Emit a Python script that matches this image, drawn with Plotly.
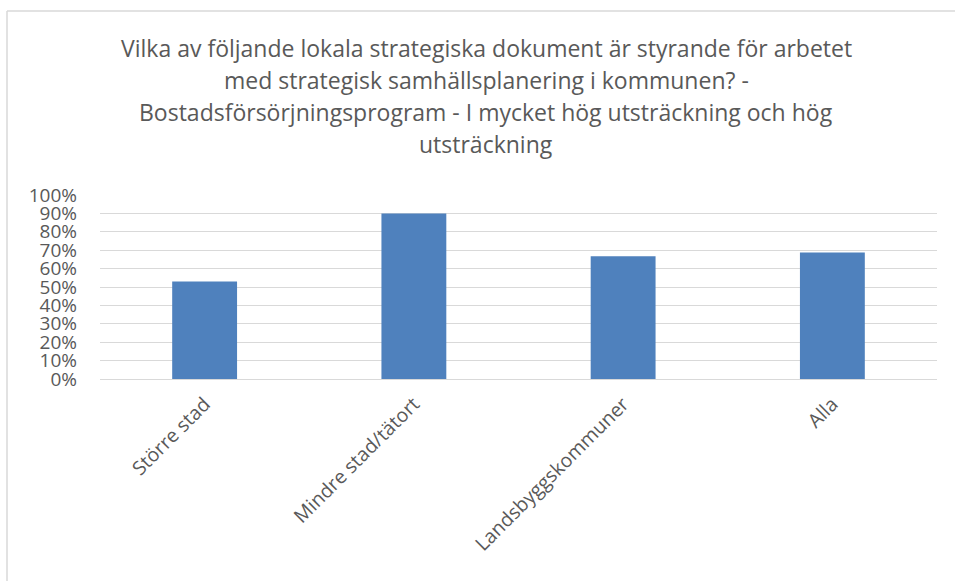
import plotly.graph_objects as go

categories = ["Större stad", "Mindre stad/tätort", "Landsbyggskommuner", "Alla"]
values = [0.53, 0.90, 0.667, 0.688]
y_ticks = [i / 10 for i in range(11)]
y_tick_labels = [f"{i*10}%" for i in range(11)]
title_lines = [
    "Vilka av följande lokala strategiska dokument är styrande för arbetet",
    "med strategisk samhällsplanering i kommunen? -",
    "Bostadsförsörjningsprogram - I mycket hög utsträckning och hög",
    "utsträckning",
]

W, H = 955, 581
L, R, T, B = 100, 18, 195, 202
pw, ph = W - L - R, H - T - B

def px_x(x):
    return (x - L) / pw

def px_y(y):
    return (H - B - y) / ph

font_family = "Open Sans, sans-serif"
grey = "#595959"

fig = go.Figure(go.Bar(
    x=categories, y=values,
    marker=dict(color="#4f81bd", line=dict(width=0)),
    hoverinfo="x+y",
))

annotations = []
title_y = [48, 80, 112, 144]
for line, yy in zip(title_lines, title_y):
    annotations.append(dict(
        text=line, x=px_x(486), y=px_y(yy), xref="paper", yref="paper",
        xanchor="center", yanchor="middle", showarrow=False,
        font=dict(family=font_family, size=23, color=grey),
    ))

shapes = [
    dict(type="line", xref="paper", yref="paper",
         x0=px_x(7), x1=px_x(7), y0=px_y(11), y1=px_y(H + 5),
         line=dict(color="#d9d9d9", width=1.5)),
    dict(type="line", xref="paper", yref="paper",
         x0=px_x(7), x1=px_x(W + 5), y0=px_y(11), y1=px_y(11),
         line=dict(color="#d9d9d9", width=1.5)),
]

fig.update_layout(
    width=W, height=H,
    margin=dict(l=L, r=R, t=T, b=B, autoexpand=False),
    paper_bgcolor="white", plot_bgcolor="white",
    bargap=0.69,
    showlegend=False,
    annotations=annotations,
    shapes=shapes,
    font=dict(family=font_family, color=grey),
    xaxis=dict(
        tickangle=-45,
        tickfont=dict(family=font_family, size=19.5, color=grey),
        showline=True, linecolor="#d9d9d9", linewidth=1,
        showgrid=False, ticks="",
        ticklabelstandoff=5,
    ),
    yaxis=dict(
        range=[0, 1.0],
        tickvals=y_ticks, ticktext=y_tick_labels,
        tickfont=dict(family=font_family, size=19, color=grey),
        showgrid=True, gridcolor="#d9d9d9", gridwidth=1,
        zeroline=False, showline=False, ticks="",
        ticklabelstandoff=22,
    ),
)

fig.write_html("out.html", config={"displayModeBar": False},
               post_script="document.body.style.margin='0';")
